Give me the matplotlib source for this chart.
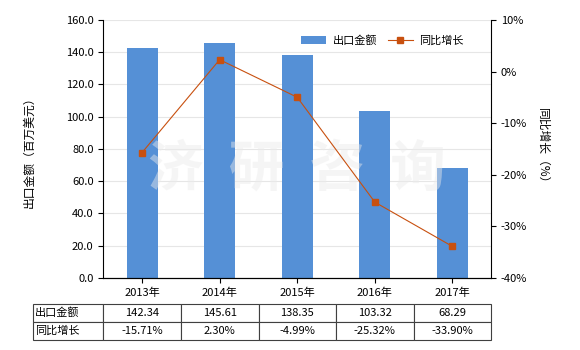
import matplotlib.pyplot as plt
from matplotlib.ticker import FuncFormatter

plt.rcParams['font.family'] = ['Noto Sans CJK SC', 'DejaVu Sans']
plt.rcParams['font.size'] = 8

years = ["2013年", "2014年", "2015年", "2016年", "2017年"]
export_value = [142.34, 145.61, 138.35, 103.32, 68.29]  # 百万美元
yoy_growth = [-15.71, 2.30, -4.99, -25.32, -33.90]  # %

bar_color = "#5590d6"
line_color = "#c8500f"

fig = plt.figure(figsize=(5.8, 3.5), dpi=100)
ax = fig.add_axes([0.178, 0.206, 0.669, 0.737])
x = range(len(years))

ax.bar(x, export_value, width=0.4, color=bar_color, label="出口金额", zorder=2)
ax.set_ylim(0, 160)
ax.set_yticks(range(0, 161, 20))
ax.yaxis.set_major_formatter(FuncFormatter(lambda v, p: f"{v:.1f}"))
ax.set_xlim(-0.5, len(years) - 0.5)
ax.set_xticks(list(x))
ax.set_xticklabels(years)
ax.grid(axis='y', color='#e6e6e6', linewidth=0.8, zorder=0)
ax.set_ylabel("出口金额（百万美元）", fontsize=8.5, labelpad=22)
for s in ['top', 'right']:
    ax.spines[s].set_visible(False)

ax2 = ax.twinx()
ax2.plot(x, yoy_growth, color=line_color, linewidth=0.8, marker='s', markersize=4,
         label="同比增长", zorder=3)
ax2.set_ylim(-40, 10)
ax2.set_yticks(range(-40, 11, 10))
ax2.yaxis.set_major_formatter(FuncFormatter(lambda v, p: f"{v:.0f}%"))
ax2.set_ylabel("同比增长（%）", rotation=-90, labelpad=16, fontsize=8.5)
for s in ['top', 'left']:
    ax2.spines[s].set_visible(False)

# watermark
ax.text(0.5, 0.42, "济  研  咨  询", transform=ax.transAxes, fontsize=40,
        color='#ebebeb', alpha=0.45, ha='center', va='center',
        fontweight='bold', zorder=2.5)

h1, l1 = ax.get_legend_handles_labels()
h2, l2 = ax2.get_legend_handles_labels()
ax2.legend(h1 + h2, l1 + l2, loc='upper right', bbox_to_anchor=(0.955, 0.98), ncol=2,
           frameon=False, fontsize=8, handlelength=2.2, columnspacing=1.0,
           handletextpad=0.6)

row_names = ["出口金额", "同比增长"]
cells = [[row_names[0]] + [f"{v:.2f}" for v in export_value],
         [row_names[1]] + [f"{v:.2f}%" for v in yoy_growth]]
tbl = ax.table(cellText=cells, cellLoc='center',
               colWidths=[70] + [77.6] * len(years),
               bbox=[-0.180, -0.240, 1.180, 0.1395])
tbl.auto_set_font_size(False)
tbl.set_fontsize(8)
for (r, c), cell in tbl.get_celld().items():
    cell.set_edgecolor('#404040')
    cell.set_linewidth(0.8)
    if c == 0:
        cell.set_text_props(ha='left')
        cell.PAD = 0.02

fig.savefig("out.png", dpi=100)
